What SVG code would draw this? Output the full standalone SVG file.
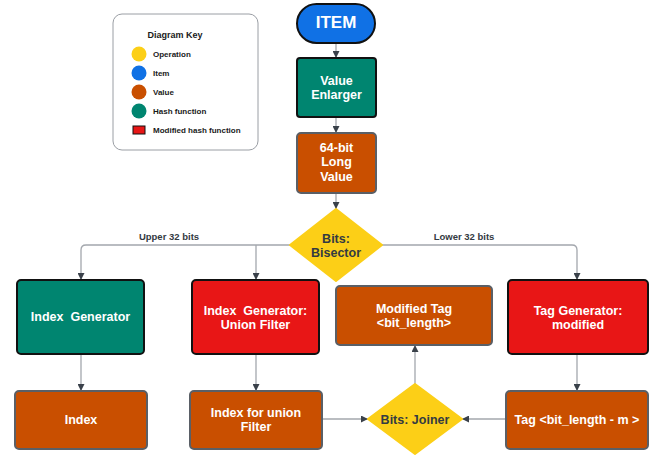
<svg xmlns="http://www.w3.org/2000/svg" width="654" height="455" viewBox="0 0 654 455">
<defs>
<style>
text{font-family:"Liberation Sans",Arial,sans-serif;font-weight:bold;text-anchor:middle;white-space:pre}
.w{fill:#ffffff;font-size:12.5px}
.d{fill:#333a42}
.k{fill:#1a1a1a;font-size:8px;text-anchor:start}
.blk{stroke:#111111;stroke-width:2}
.gry{stroke:#5a5f66;stroke-width:2}
.teal{fill:#008570}
.red{fill:#e81616}
.org{fill:#c94f00}
.yel{fill:#fccf17}
.blu{fill:#1071e5}
.c{fill:none;stroke:#a3a7ad;stroke-width:1.3}
</style>
<marker id="ah" viewBox="0 0 10 10" refX="10" refY="5" markerWidth="7" markerHeight="7" markerUnits="userSpaceOnUse" orient="auto">
<path d="M0,0 L10,5 L0,10 z" fill="#3a414a"/>
</marker>
</defs>
<rect width="654" height="455" fill="#ffffff"/>

<g id="legend">
<rect x="113" y="14" width="145" height="136" rx="9" fill="#ffffff" stroke="#9a9ea4" stroke-width="1"/>
<text x="175" y="38" class="d" style="font-size:9px;fill:#1a1a1a">Diagram Key</text>
<circle cx="139" cy="54" r="7.5" class="yel"/>
<text x="153" y="57" class="k">Operation</text>
<circle cx="139" cy="73" r="7.5" class="blu"/>
<text x="153" y="76" class="k">Item</text>
<circle cx="139" cy="92" r="7.5" class="org"/>
<text x="153" y="95" class="k">Value</text>
<circle cx="139" cy="111" r="7.5" class="teal"/>
<text x="153" y="114" class="k">Hash function</text>
<rect x="133" y="126" width="12" height="8" class="red" stroke="#111" stroke-width="1"/>
<text x="153" y="133" class="k">Modified hash function</text>
</g>

<g id="connectors">
<path d="M336,43 V58" class="c" marker-end="url(#ah)"/>
<path d="M336,117 V133" class="c" marker-end="url(#ah)"/>
<path d="M336,193 V209" class="c" marker-end="url(#ah)"/>
<path d="M290,245 H86 Q81,245 81,250 V280" class="c" marker-end="url(#ah)"/>
<path d="M256,245 V280" class="c" marker-end="url(#ah)"/>
<path d="M382,245 H572 Q577,245 577,250 V280" class="c" marker-end="url(#ah)"/>
<path d="M81,354 V391" class="c" marker-end="url(#ah)"/>
<path d="M256,354 V391" class="c" marker-end="url(#ah)"/>
<path d="M577,354 V391" class="c" marker-end="url(#ah)"/>
<path d="M322,419 H368" class="c" marker-end="url(#ah)"/>
<path d="M506,419 H462" class="c" marker-end="url(#ah)"/>
<path d="M415,384 V345" class="c" marker-end="url(#ah)"/>
<text x="169" y="240" class="d" style="font-size:9.5px">Upper 32 bits</text>
<text x="464" y="240" class="d" style="font-size:9.5px">Lower 32 bits</text>
</g>

<g id="item">
<rect x="297" y="4" width="78" height="39" rx="19.5" class="blu blk"/>
<text x="336" y="28" class="w" style="font-size:17px">ITEM</text>
</g>

<g id="value-enlarger">
<rect x="297" y="58" width="79" height="59" rx="3" class="teal blk"/>
<text x="336.5" y="84.5" class="w">Value</text>
<text x="336.5" y="98.5" class="w">Enlarger</text>
</g>

<g id="long-value">
<rect x="297" y="133" width="79" height="60" rx="4" class="org gry"/>
<text x="336.5" y="151.5" class="w">64-bit</text>
<text x="336.5" y="166" class="w">Long</text>
<text x="336.5" y="180.5" class="w">Value</text>
</g>

<g id="bisector">
<path d="M336,209 L382,245 L336,281 L290,245 Z" class="yel" stroke="#fccf17" stroke-width="2" stroke-linejoin="round"/>
<text x="336" y="242.5" class="d" style="font-size:12.5px">Bits:</text>
<text x="336" y="256.5" class="d" style="font-size:12.5px">Bisector</text>
</g>

<g id="index-generator">
<rect x="17" y="280" width="127" height="74" rx="4" class="teal blk"/>
<text x="80.5" y="320.5" class="w" xml:space="preserve">Index  Generator</text>
</g>

<g id="union-filter">
<rect x="192" y="280" width="127" height="74" rx="4" class="red blk"/>
<text x="255.5" y="314.5" class="w" xml:space="preserve">Index  Generator:</text>
<text x="255.5" y="328.5" class="w">Union Filter</text>
</g>

<g id="modified-tag">
<rect x="336" y="286" width="156" height="59" rx="4" class="org gry"/>
<text x="414" y="312.5" class="w">Modified Tag</text>
<text x="414" y="326.5" class="w">&lt;bit_length&gt;</text>
</g>

<g id="tag-generator">
<rect x="508" y="280" width="140" height="74" rx="4" class="red blk"/>
<text x="578" y="314.5" class="w">Tag Generator:</text>
<text x="578" y="328.5" class="w">modified</text>
</g>

<g id="index">
<rect x="15" y="391" width="132" height="58" rx="4" class="org gry"/>
<text x="81" y="423.5" class="w">Index</text>
</g>

<g id="index-union">
<rect x="190" y="391" width="132" height="58" rx="4" class="org gry"/>
<text x="256" y="416.5" class="w">Index for union</text>
<text x="256" y="430.5" class="w">Filter</text>
</g>

<g id="joiner">
<path d="M415,384 L462,419 L415,454 L368,419 Z" class="yel" stroke="#fccf17" stroke-width="2" stroke-linejoin="round"/>
<text x="415" y="423.5" class="d" style="font-size:12.5px">Bits: Joiner</text>
</g>

<g id="tag">
<rect x="506" y="391" width="142" height="58" rx="4" class="org gry"/>
<text x="577" y="423.5" class="w">Tag &lt;bit_length - m &gt;</text>
</g>
</svg>
